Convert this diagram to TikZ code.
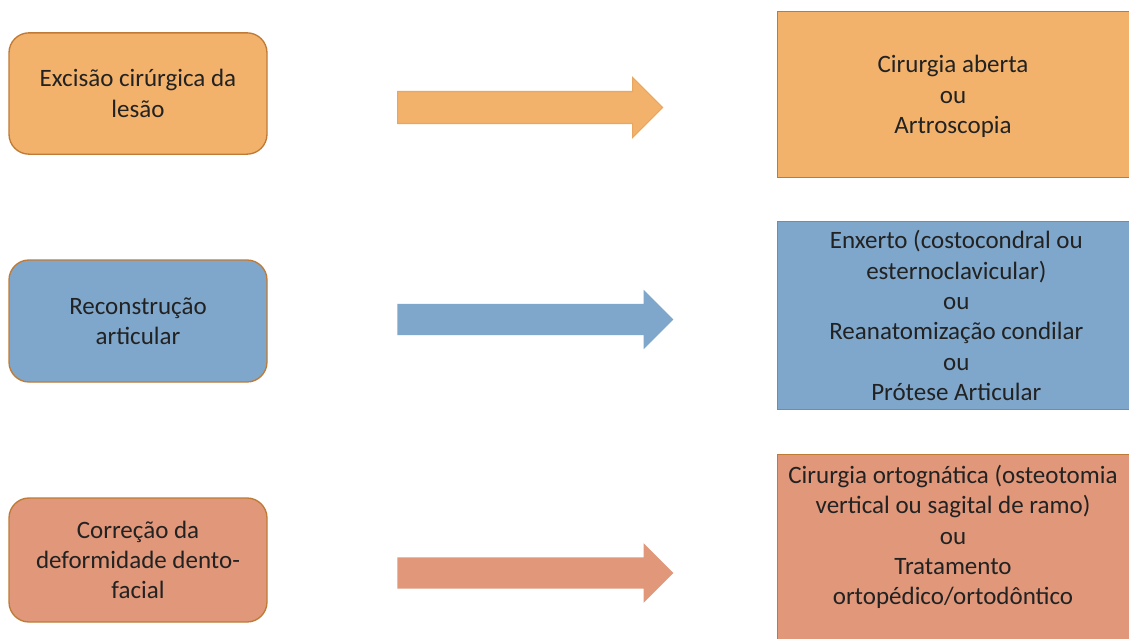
\documentclass[tikz,border=0pt]{standalone}
\usepackage{fontspec}
\setmainfont{Carlito}
\usetikzlibrary{shapes.arrows}

\definecolor{laranja}{HTML}{F2B26C}
\definecolor{azul}{HTML}{7FA7CB}
\definecolor{salmao}{HTML}{E0977A}
\definecolor{borda}{HTML}{BF7B36}
\definecolor{texto}{HTML}{222222}

\tikzset{
  etapa/.style={draw=borda,line width=1pt,rounded corners=15pt,minimum width=193.5pt,
                minimum height=91pt,align=center,text=texto},
  opcao/.style={draw=borda,line width=1pt,minimum width=268pt,anchor=north west,
                align=center,text=texto},
  seta/.style={single arrow,inner sep=0pt,inner ysep=11.6pt,single arrow head extend=10.5pt,
               anchor=west,minimum height=207pt}
}

\begin{document}
\begin{tikzpicture}[x=0.75pt,y=-0.75pt,font={\fontsize{18.75}{22.8}\selectfont}]
    \clip (0,0) rectangle (1129,639);
    \fill[white] (0,0) rectangle (1129,639);

    \node[etapa,fill=laranja] (excisao) at (138,93.5) {Excisão cirúrgica da\\lesão};
    \node[etapa,fill=azul,minimum height=91.5pt] (reconstrucao) at (138,321) {Reconstrução\\articular};
    \node[etapa,fill=salmao,minimum height=93pt] (correcao) at (138,560) {Correção da\\deformidade dento-\\facial};

    \node[seta,fill=laranja,draw=laranja!80!borda,line width=0.8pt,minimum height=198.75pt] (seta1) at (397,107.5) {};
    \node[seta,fill=azul] (seta2) at (397,319.5) {};
    \node[seta,fill=salmao] (seta3) at (397,573) {};

    \node[opcao,fill=laranja,minimum height=124.5pt] (cirurgia) at (777,11) {};
    \node[align=center,text=texto] (cirurgia texto) at (953,96.5)
        {Cirurgia aberta\\ou\\Artroscopia};
    \node[opcao,fill=azul,minimum height=141pt] (enxerto) at (777,221)
        {Enxerto (costocondral ou\\esternoclavicular)\\ou\\Reanatomização condilar\\ou\\Prótese Articular};
    \node[opcao,fill=salmao,minimum height=150pt] (ortognatica) at (777,454) {};
    \node[align=center,text=texto] (ortognatica texto) at (953,537)
        {Cirurgia ortognática (osteotomia\\vertical ou sagital de ramo)\\ou\\Tratamento\\ortopédico/ortodôntico};
\end{tikzpicture}
\end{document}
